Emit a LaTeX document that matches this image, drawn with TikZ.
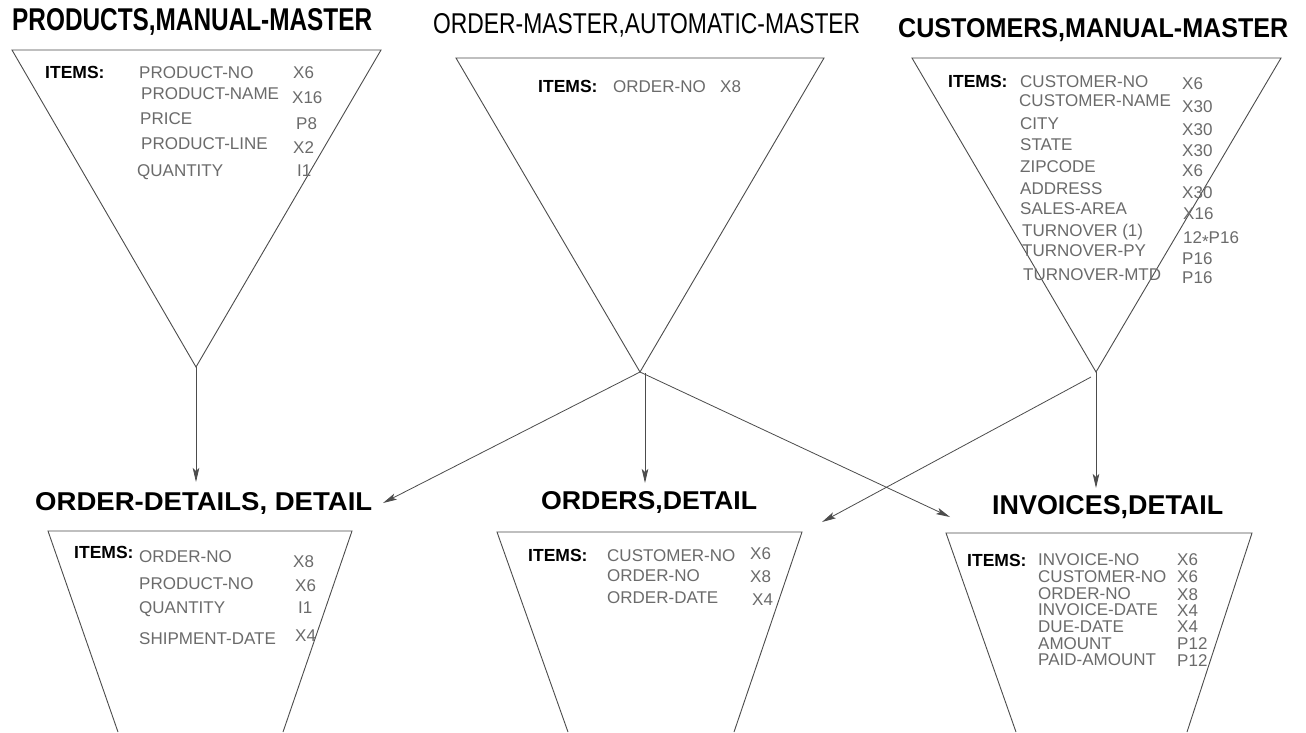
\documentclass[tikz,border=0pt]{standalone}
\usepackage{fontspec}
\setmainfont{Liberation Sans}
\usetikzlibrary{arrows.meta}
\definecolor{linec}{gray}{0.3}
\definecolor{itemc}{gray}{0.42}
\tikzset{
  ttl/.style={anchor=base west, inner sep=0pt, text=black},
  itm/.style={anchor=base west, inner sep=0pt, text=itemc, font=\fontsize{17}{18}\selectfont},
  lbl/.style={anchor=base west, inner sep=0pt, text=black, font=\bfseries\fontsize{17.5}{18}\selectfont},
  shapeline/.style={draw=linec, line width=0.9pt, line join=miter},
  conn/.style={draw=linec, line width=0.8pt, -{Stealth[length=14pt,width=6.5pt,inset=3pt]}},
}
\newcommand{\ttxt}[3]{\resizebox{#1pt}{#2pt}{#3}}
\begin{document}
\begin{tikzpicture}[x=1pt,y=-1pt]
\useasboundingbox (0,0) rectangle (1306,732);
\fill[white] (0,0) rectangle (1306,732);

% ---------- titles ----------
\node[ttl] (tprod) at (12,30) {\ttxt{360}{22}{\bfseries PRODUCTS,MANUAL-MASTER}};
\node[ttl] (tomas) at (433,33) {\ttxt{427}{20}{ORDER-MASTER,AUTOMATIC-MASTER}};
\node[ttl] (tcust) at (898,37) {\ttxt{390}{19}{\bfseries CUSTOMERS,MANUAL-MASTER}};
\node[ttl] (todet) at (35,510) {\ttxt{337}{18}{\bfseries ORDER-DETAILS, DETAIL}};
\node[ttl] (tord) at (541,509) {\ttxt{216}{18}{\bfseries ORDERS,DETAIL}};
\node[ttl] (tinv) at (992,514) {\ttxt{231}{19}{\bfseries INVOICES,DETAIL}};

% ---------- shapes ----------
\coordinate (aprod) at (196,367);
\coordinate (aomas) at (640,372);
\coordinate (aomasv) at (645,373);
\coordinate (acust) at (1096,372);
\coordinate (acustl) at (1091,377);

\draw[shapeline] (12,50) -- (381,50) -- (aprod) -- cycle;
\draw[shapeline] (456,58) -- (824,58) -- (aomas) -- cycle;
\draw[shapeline] (912,58) -- (1281,58) -- (acust) -- cycle;

\draw[shapeline] (118,732) -- (48,531) -- (352,531) -- (283,732);
\draw[shapeline] (568,732) -- (497,532) -- (802,532) -- (734,732);
\draw[shapeline] (1016,732) -- (946,533) -- (1252,533) -- (1187,732);

% ---------- connectors ----------
\coordinate (tipodet) at (196,482);
\coordinate (tipodet2) at (383,503);
\coordinate (tipord) at (645,483);
\coordinate (tipinv) at (950,517);
\coordinate (tipinv2) at (1096,488);
\coordinate (tipord2) at (822,522);

\draw[conn] (aprod) -- (tipodet);
\draw[conn] (aomas) -- (tipodet2);
\draw[conn] (aomasv) -- (tipord);
\draw[conn] (aomas) -- (tipinv);
\draw[conn] (acust) -- (tipinv2);
\draw[conn] (acustl) -- (tipord2);

% ---------- PRODUCTS items ----------
\node[lbl] (l1) at (45,78) {ITEMS:};
\node[itm] (p1) at (139,78) {PRODUCT-NO};
\node[itm] (p2) at (141,99) {PRODUCT-NAME};
\node[itm] (p3) at (140,124) {PRICE};
\node[itm] (p4) at (141,149) {PRODUCT-LINE};
\node[itm] (p5) at (137,176) {QUANTITY};
\node[itm] (pt1) at (293,78) {X6};
\node[itm] (pt2) at (292,103) {X16};
\node[itm] (pt3) at (296,129) {P8};
\node[itm] (pt4) at (293,153) {X2};
\node[itm] (pt5) at (297,176) {I1};

% ---------- ORDER-MASTER items ----------
\node[lbl] (l2) at (538,92) {ITEMS:};
\node[itm] (m1) at (613,92) {ORDER-NO};
\node[itm] (mt1) at (720,92) {X8};

% ---------- CUSTOMERS items ----------
\node[lbl] (l3) at (948,87) {ITEMS:};
\node[itm] (c1) at (1020,87) {CUSTOMER-NO};
\node[itm] (c2) at (1019,106) {CUSTOMER-NAME};
\node[itm] (c3) at (1020,129) {CITY};
\node[itm] (c4) at (1020,150) {STATE};
\node[itm] (c5) at (1020,172) {ZIPCODE};
\node[itm] (c6) at (1020,194) {ADDRESS};
\node[itm] (c7) at (1020,214) {SALES-AREA};
\node[itm] (c8) at (1022,236) {TURNOVER (1)};
\node[itm] (c9) at (1022,256) {TURNOVER-PY};
\node[itm] (c10) at (1023,280) {TURNOVER-MTD};
\node[itm] (ct1) at (1182,89) {X6};
\node[itm] (ct2) at (1182,112) {X30};
\node[itm] (ct3) at (1182,135) {X30};
\node[itm] (ct4) at (1182,156) {X30};
\node[itm] (ct5) at (1182,176) {X6};
\node[itm] (ct6) at (1182,198) {X30};
\node[itm] (ct7) at (1183,219) {X16};
\node[itm] (ct8) at (1183,243) {12\raisebox{-0.5ex}{*}P16};
\node[itm] (ct9) at (1182,264) {P16};
\node[itm] (ct10) at (1182,283) {P16};

% ---------- ORDER-DETAILS items ----------
\node[lbl] (l4) at (74,558) {ITEMS:};
\node[itm] (d1) at (139,562) {ORDER-NO};
\node[itm] (d2) at (139,589) {PRODUCT-NO};
\node[itm] (d3) at (139,613) {QUANTITY};
\node[itm] (d4) at (139,644) {SHIPMENT-DATE};
\node[itm] (dt1) at (293,567) {X8};
\node[itm] (dt2) at (295,591) {X6};
\node[itm] (dt3) at (298,613) {I1};
\node[itm] (dt4) at (295,641) {X4};

% ---------- ORDERS items ----------
\node[lbl] (l5) at (528,561) {ITEMS:};
\node[itm] (o1) at (607,561) {CUSTOMER-NO};
\node[itm] (o2) at (607,581) {ORDER-NO};
\node[itm] (o3) at (607,603) {ORDER-DATE};
\node[itm] (ot1) at (750,559) {X6};
\node[itm] (ot2) at (750,582) {X8};
\node[itm] (ot3) at (752,605) {X4};

% ---------- INVOICES items ----------
\node[lbl] (l6) at (967,566) {ITEMS:};
\node[itm] (i1) at (1038,565) {INVOICE-NO};
\node[itm] (i2) at (1038,582) {CUSTOMER-NO};
\node[itm] (i3) at (1038,599) {ORDER-NO};
\node[itm] (i4) at (1038,615) {INVOICE-DATE};
\node[itm] (i5) at (1038,632) {DUE-DATE};
\node[itm] (i6) at (1038,649) {AMOUNT};
\node[itm] (i7) at (1038,665) {PAID-AMOUNT};
\node[itm] (it1) at (1177,565) {X6};
\node[itm] (it2) at (1177,582) {X6};
\node[itm] (it3) at (1177,600) {X8};
\node[itm] (it4) at (1177,616) {X4};
\node[itm] (it5) at (1177,632) {X4};
\node[itm] (it6) at (1177,649) {P12};
\node[itm] (it7) at (1177,666) {P12};
\end{tikzpicture}
\end{document}
